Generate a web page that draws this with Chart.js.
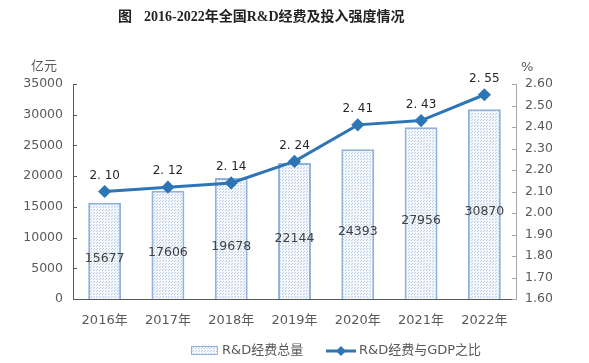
<!DOCTYPE html>
<html>
<head>
<meta charset="utf-8">
<script src="https://cdn.jsdelivr.net/npm/chart.js@4"></script>
<style>
  body { margin: 0; background: #fff; }
  canvas { display: block; }
</style>
</head>
<body>
<canvas id="chart" width="589" height="363"></canvas>
<script>
// chart data
const years = ["2016年", "2017年", "2018年", "2019年", "2020年", "2021年", "2022年"];
const spending = [15677, 17606, 19678, 22144, 24393, 27956, 30870];
const ratio = [2.10, 2.12, 2.14, 2.24, 2.41, 2.43, 2.55];

const AXIS_GRAY = "#595959";
const LINE_BLUE = "#2e75b6";
const BAR_EDGE = "#8fb3dc";
const FONT = "'DejaVu Sans', 'Noto Sans CJK SC', sans-serif";

// dotted fill like the original print
function makeDots() {
  const c = document.createElement("canvas");
  c.width = 3;
  c.height = 3;
  const g = c.getContext("2d");
  g.fillStyle = "#f4f7fb";
  g.fillRect(0, 0, 3, 3);
  g.fillStyle = "#b9cde6";
  g.fillRect(0, 0, 1, 1);
  g.fillRect(1, 2, 1, 1);
  return g.createPattern(c, "repeat");
}
const dots = makeDots();

function fmtRatio(v) {
  return v.toFixed(2).replace(".", ". ");
}

// title, units, inward ticks, value labels and legend
const decorations = {
  id: "decorations",
  afterDraw(chart) {
    const ctx = chart.ctx;
    const yL = chart.scales.y;
    const yR = chart.scales.y1;
    ctx.save();

    // title
    ctx.fillStyle = "#222";
    ctx.font = "bold 14px 'Liberation Serif', 'Noto Sans CJK SC', serif";
    ctx.textBaseline = "middle";
    ctx.textAlign = "left";
    ctx.fillText("图", 118, 17);
    ctx.fillText("2016-2022年全国R&D经费及投入强度情况", 144, 17);

    // units
    ctx.fillStyle = AXIS_GRAY;
    ctx.font = "13px " + FONT;
    ctx.fillText("亿元", 31, 67);
    ctx.fillText("%", 521, 68);

    // inward tick marks
    ctx.lineWidth = 1;
    ctx.strokeStyle = AXIS_GRAY;
    yL.ticks.forEach((t) => {
      const py = Math.round(yL.getPixelForValue(t.value)) + 0.5;
      ctx.beginPath();
      ctx.moveTo(yL.right, py);
      ctx.lineTo(yL.right + 4, py);
      ctx.stroke();
    });
    ctx.strokeStyle = "#a6a6a6";
    yR.ticks.forEach((t) => {
      const py = Math.round(yR.getPixelForValue(t.value)) + 0.5;
      ctx.beginPath();
      ctx.moveTo(yR.left - 4, py);
      ctx.lineTo(yR.left, py);
      ctx.stroke();
    });

    // bar value labels
    ctx.font = "12.5px " + FONT;
    ctx.fillStyle = "#404040";
    ctx.textAlign = "center";
    chart.getDatasetMeta(0).data.forEach((bar, i) => {
      const mid = (bar.y + bar.base) / 2;
      ctx.fillText(String(spending[i]), bar.x, mid + 8);
    });

    // line value labels
    ctx.font = "12px " + FONT;
    ctx.fillStyle = "#262626";
    chart.getDatasetMeta(1).data.forEach((pt, i) => {
      ctx.fillText(fmtRatio(ratio[i]), pt.x, pt.y - 16);
    });

    // legend
    ctx.fillStyle = dots;
    ctx.fillRect(191, 346, 27, 9);
    ctx.strokeStyle = BAR_EDGE;
    ctx.lineWidth = 1;
    ctx.strokeRect(191.5, 346.5, 26, 8);
    ctx.fillStyle = AXIS_GRAY;
    ctx.font = "13px " + FONT;
    ctx.textAlign = "left";
    ctx.fillText("R&D经费总量", 222, 351);

    ctx.strokeStyle = LINE_BLUE;
    ctx.lineWidth = 3;
    ctx.beginPath();
    ctx.moveTo(326, 351);
    ctx.lineTo(356, 351);
    ctx.stroke();
    ctx.fillStyle = LINE_BLUE;
    ctx.beginPath();
    ctx.moveTo(341, 346);
    ctx.lineTo(346, 351);
    ctx.lineTo(341, 356);
    ctx.lineTo(336, 351);
    ctx.closePath();
    ctx.fill();
    ctx.fillStyle = AXIS_GRAY;
    ctx.fillText("R&D经费与GDP之比", 359, 351);

    ctx.restore();
  },
};

new Chart(document.getElementById("chart"), {
  data: {
    labels: years,
    datasets: [
      {
        type: "bar",
        label: "R&D经费总量",
        data: spending,
        yAxisID: "y",
        backgroundColor: dots,
        borderColor: BAR_EDGE,
        borderWidth: 2,
        barPercentage: 0.52,
        categoryPercentage: 1,
        order: 2,
      },
      {
        type: "line",
        label: "R&D经费与GDP之比",
        data: ratio,
        yAxisID: "y1",
        borderColor: LINE_BLUE,
        backgroundColor: LINE_BLUE,
        borderWidth: 3,
        pointStyle: "rectRot",
        pointRadius: 4.5,
        tension: 0,
        order: 1,
      },
    ],
  },
  options: {
    responsive: false,
    animation: false,
    layout: { padding: { top: 84, left: 0, right: 0, bottom: 0 } },
    plugins: {
      legend: { display: false },
      tooltip: { enabled: false },
    },
    scales: {
      x: {
        grid: { display: false },
        border: { display: true, color: AXIS_GRAY, width: 1 },
        ticks: { color: AXIS_GRAY, font: { size: 13, family: FONT }, padding: 6 },
        afterFit: (s) => { s.height = 64; },
      },
      y: {
        position: "left",
        min: 0,
        max: 35000,
        grid: { display: false, drawTicks: false },
        border: { display: true, color: AXIS_GRAY, width: 1 },
        ticks: {
          stepSize: 5000,
          color: AXIS_GRAY,
          font: { size: 12.5, family: FONT },
          padding: 10,
          callback: (v) => String(v),
        },
        afterFit: (s) => { s.width = 73; },
      },
      y1: {
        position: "right",
        min: 1.6,
        max: 2.6,
        grid: { display: false, drawTicks: false },
        border: { display: true, color: "#a6a6a6", width: 1 },
        ticks: {
          stepSize: 0.1,
          color: AXIS_GRAY,
          font: { size: 12.5, family: FONT },
          padding: 9,
          callback: (v) => Number(v).toFixed(2),
        },
        afterFit: (s) => { s.width = 73; },
      },
    },
  },
  plugins: [decorations],
});
</script>
</body>
</html>
